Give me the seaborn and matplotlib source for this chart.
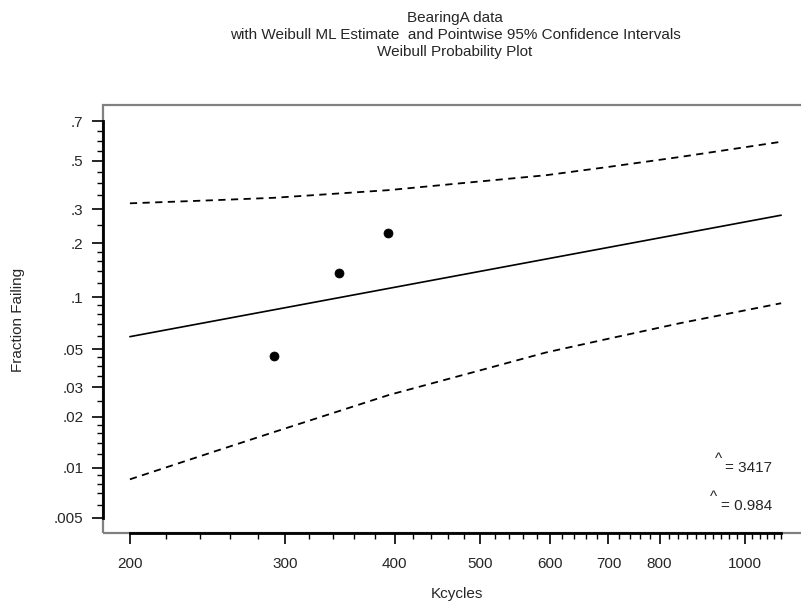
import numpy as np
import matplotlib
matplotlib.use("Agg")
import matplotlib.pyplot as plt
from matplotlib.patches import Rectangle
from matplotlib.ticker import FixedLocator, NullFormatter
import seaborn as sns

# failure data (plotting positions)
kcycles = [292, 345.6, 393]
frac_fail = [0.0455, 0.1364, 0.2273]

# ML line end points
ml_x = [200, 1100]
ml_y = [0.0594, 0.2795]

# pointwise 95% bands
band_x = [200, 250, 292, 394, 500, 594, 700, 843, 1100]
upper_y = [0.3204, 0.332, 0.341, 0.371, 0.407, 0.434, 0.472, 0.519, 0.595]
lower_y = [0.0085, 0.0125, 0.0163, 0.0270, 0.0377, 0.048, 0.0578, 0.071, 0.0926]

ymajor = [0.005, 0.01, 0.02, 0.03, 0.05, 0.1, 0.2, 0.3, 0.5, 0.7]
ymajor_lab = ['.005', '.01', '.02', '.03', '.05', '.1', '.2', '.3', '.5', '.7']
yminor = [0.006, 0.007, 0.008, 0.009, 0.012, 0.014, 0.016, 0.018, 0.025,
          0.035, 0.04, 0.045, 0.06, 0.07, 0.08, 0.09, 0.12, 0.14, 0.16, 0.18,
          0.25, 0.35, 0.4, 0.45, 0.55, 0.6, 0.65]
xmajor = [200, 300, 400, 500, 600, 700, 800, 1000]
xminor = [v for v in range(220, 1101, 20) if v not in xmajor]

sns.set_style("white")
plt.rcParams['font.family'] = ['Liberation Sans', 'DejaVu Sans']
FS = 11


def fwd(p):
    p = np.asarray(p, dtype=float)
    with np.errstate(all='ignore'):
        return np.log(-np.log1p(-p))


def inv(z):
    z = np.asarray(z, dtype=float)
    with np.errstate(all='ignore'):
        return -np.expm1(-np.exp(z))


fig = plt.figure(figsize=(8.01, 6.10), dpi=100)
ax = fig.add_axes([103 / 801, 77 / 610, 727 / 801, 428 / 610])
ax.set_xscale('log')
ax.set_yscale('function', functions=(fwd, inv))

sns.lineplot(x=ml_x, y=ml_y, ax=ax, color='black', linewidth=1.2)
sns.lineplot(x=band_x, y=upper_y, ax=ax, color='black', linewidth=1.3,
             linestyle=(0, (4, 3)))
sns.lineplot(x=band_x, y=lower_y, ax=ax, color='black', linewidth=1.3,
             linestyle=(0, (4, 3)))
sns.scatterplot(x=kcycles, y=frac_fail, ax=ax, color='black', s=42,
                edgecolor='black', zorder=5)

ax.set_xlim(186.4, 1250)
ax.set_ylim(0.004059, 0.7773)

ax.xaxis.set_major_locator(FixedLocator(xmajor))
ax.xaxis.set_minor_locator(FixedLocator(xminor))
ax.set_xticklabels([str(v) for v in xmajor])
ax.xaxis.set_minor_formatter(NullFormatter())
ax.yaxis.set_major_locator(FixedLocator(ymajor))
ax.yaxis.set_minor_locator(FixedLocator(yminor))
ax.set_yticklabels(ymajor_lab)
ax.yaxis.set_minor_formatter(NullFormatter())

ax.tick_params(axis='both', which='major', direction='out', length=8,
               width=1.2, color='black', labelsize=FS, bottom=True, left=True)
ax.tick_params(axis='both', which='minor', direction='out', length=4,
               width=1, color='black', bottom=True, left=True)
ax.tick_params(axis='y', which='major', pad=6)
ax.tick_params(axis='x', which='major', pad=9)

for s in ['top', 'right']:
    ax.spines[s].set_visible(False)
for s in ['left', 'bottom']:
    ax.spines[s].set_color('black')
    ax.spines[s].set_linewidth(2)
ax.spines['left'].set_bounds(0.005, 0.7)
ax.spines['bottom'].set_bounds(200, 1100)
ax.add_patch(Rectangle((0, 0), 1, 1, transform=ax.transAxes, fill=False,
                       edgecolor='#808080', linewidth=1.6, zorder=0,
                       clip_on=False))

ax.set_xlabel('Kcycles', fontsize=FS)
ax.set_ylabel('Fraction Failing', fontsize=FS)
ax.xaxis.set_label_coords((457 - 103) / 727, -(594 - 533) / 428)
ax.yaxis.set_label_coords(-(103 - 18) / 727, (533 - 320) / 428)
ax.xaxis.label.set_va('center')
ax.yaxis.label.set_va('center')

fig.text(455 / 801, 1 - 18 / 610, 'BearingA data', ha='center', va='center',
         fontsize=FS)
fig.text(455 / 801, 1 - 35 / 610,
         'with Weibull ML Estimate  and Pointwise 95% Confidence Intervals',
         ha='center', va='center', fontsize=FS)
fig.text(455 / 801, 1 - 52 / 610, 'Weibull Probability Plot', ha='center',
         va='center', fontsize=FS)

fig.text(718 / 801, 1 - 459 / 610, '^', ha='center', va='center', fontsize=FS)
fig.text(725 / 801, 1 - 468 / 610, '= 3417', ha='left', va='center',
         fontsize=FS)
fig.text(713 / 801, 1 - 497 / 610, '^', ha='center', va='center', fontsize=FS)
fig.text(721 / 801, 1 - 506 / 610, '= 0.984', ha='left', va='center',
         fontsize=FS)

fig.savefig('out.png', dpi=100)
plt.close(fig)
